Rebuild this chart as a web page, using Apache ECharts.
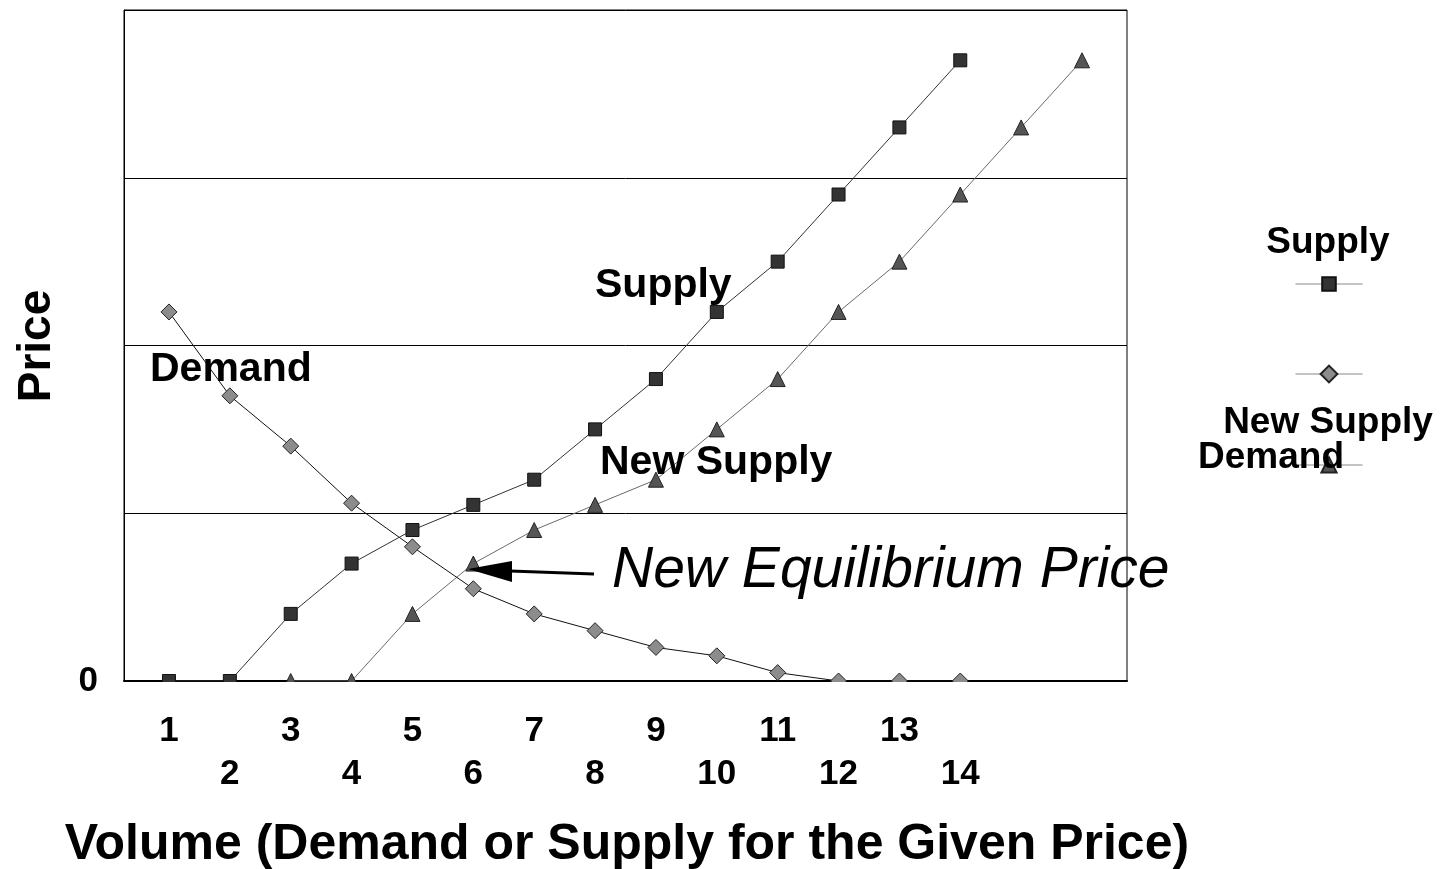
<!DOCTYPE html>
<html>
<head>
<meta charset="utf-8">
<script src="https://cdn.jsdelivr.net/npm/echarts@6/dist/echarts.min.js"></script>
<style>
  html, body { margin: 0; padding: 0; background: #fff; }
  #chart { width: 1443px; height: 869px; }
</style>
</head>
<body>
<div id="chart"></div>
<script>
// volumes 1..16 on the x axis, prices
var volumes = [1, 2, 3, 4, 5, 6, 7, 8, 9, 10, 11, 12, 13, 14, 15, 16];
var supply = [0, 0, 4, 7, 9, 10.5, 12, 15, 18, 22, 25, 29, 33, 37];
var newSupply = [null, null, 0, 0, 4, 7, 9, 10.5, 12, 15, 18, 22, 25, 29, 33, 37];
var demand = [22, 17, 14, 10.6, 8, 5.5, 4, 3, 2, 1.5, 0.5, 0, 0, 0];
var oddTicks = [1, 3, 5, 7, 9, 11, 13];
var evenTicks = [2, 4, 6, 8, 10, 12, 14];

var FONT = '"Liberation Sans", Arial, sans-serif';

function pairs(vals) {
  var out = [];
  for (var i = 0; i < vals.length; i++) {
    if (vals[i] !== null) out.push([volumes[i], vals[i]]);
  }
  return out;
}

var chart = echarts.init(document.getElementById('chart'));

var tickLabel = { fontFamily: FONT, fontSize: 35, fontWeight: 'bold', color: '#000' };

// one legend per entry, captions are drawn separately above the icons
function legendFor(name, centerY, h) {
  return {
    data: [name], left: 1295, top: centerY - h / 2, padding: 0,
    itemWidth: 67, itemHeight: h, formatter: function () { return ''; },
    lineStyle: { color: '#888', width: 1 }
  };
}

chart.setOption({
  animation: false,
  grid: {
    left: 124, top: 10, width: 1003, height: 671,
    show: true, borderColor: '#000', borderWidth: 1
  },
  xAxis: [{
    type: 'value', min: 0.261, max: 16.739,
    axisLine: { show: true, onZero: false, lineStyle: { color: '#000', width: 2 } },
    axisTick: { show: false },
    splitLine: { show: false },
    axisLabel: Object.assign({ customValues: oddTicks, margin: 33 }, tickLabel)
  }, {
    type: 'value', min: 0.261, max: 16.739, position: 'bottom',
    axisLine: { show: false },
    axisTick: { show: false },
    splitLine: { show: false },
    axisLabel: Object.assign({ customValues: evenTicks, margin: 76 }, tickLabel)
  }],
  yAxis: {
    type: 'value', min: 0, max: 40, interval: 10,
    axisLine: { show: true, lineStyle: { color: '#000', width: 1 } },
    axisTick: { show: false },
    splitLine: { show: true, lineStyle: { color: '#000', width: 1 } },
    axisLabel: Object.assign({
      margin: 26, padding: [18, 0, 0, 0],
      formatter: function (v) { return v === 0 ? '0' : ''; }
    }, tickLabel)
  },
  legend: [
    legendFor('Supply', 284, 17),
    legendFor('Demand', 374, 21),
    legendFor('New Supply', 465, 19)
  ],
  series: [{
    name: 'New Supply', type: 'line', data: pairs(newSupply),
    symbol: 'triangle', symbolSize: 15,
    lineStyle: { color: '#6a6a6a', width: 1 },
    itemStyle: { color: '#555', borderColor: '#222', borderWidth: 1 }
  }, {
    name: 'Demand', type: 'line', data: pairs(demand),
    symbol: 'diamond', symbolSize: 16,
    lineStyle: { color: '#111', width: 1 },
    itemStyle: { color: '#8c8c8c', borderColor: '#222', borderWidth: 1 }
  }, {
    name: 'Supply', type: 'line', data: pairs(supply),
    symbol: 'rect', symbolSize: 13,
    lineStyle: { color: '#333', width: 1 },
    itemStyle: { color: '#333', borderColor: '#111', borderWidth: 1 }
  }],
  graphic: [
    // hide the lower halves of markers sitting on the axis
    { type: 'rect', z: 100, shape: { x: 124, y: 682, width: 1003, height: 16 }, style: { fill: '#fff' } },
    // axis titles
    { type: 'text', z: 100, x: 37, y: 346, rotation: Math.PI / 2,
      style: { text: 'Price', font: 'bold 46px ' + FONT, fill: '#000', align: 'center', verticalAlign: 'middle' } },
    { type: 'text', z: 100, x: 627, y: 845,
      style: { text: 'Volume (Demand or Supply for the Given Price)', font: 'bold 50px ' + FONT, fill: '#000', align: 'center', verticalAlign: 'middle' } },
    // labels inside the plot
    { type: 'text', z: 100, x: 595, y: 286,
      style: { text: 'Supply', font: 'bold 41px ' + FONT, fill: '#000', verticalAlign: 'middle' } },
    { type: 'text', z: 100, x: 150, y: 370,
      style: { text: 'Demand', font: 'bold 41px ' + FONT, fill: '#000', verticalAlign: 'middle' } },
    { type: 'text', z: 100, x: 600, y: 463,
      style: { text: 'New Supply', font: 'bold 41px ' + FONT, fill: '#000', verticalAlign: 'middle' } },
    { type: 'text', z: 100, x: 612, y: 571,
      style: { text: 'New Equilibrium Price', font: 'italic 57px ' + FONT, fill: '#000', verticalAlign: 'middle' } },
    // arrow to the new equilibrium
    { type: 'line', z: 100, shape: { x1: 594, y1: 574, x2: 510, y2: 571 }, style: { stroke: '#000', lineWidth: 3 } },
    { type: 'polygon', z: 100, shape: { points: [[468, 569], [512, 561], [512, 582]] }, style: { fill: '#000' } },
    // legend captions
    { type: 'text', z: 100, x: 1328, y: 243,
      style: { text: 'Supply', font: 'bold 37px ' + FONT, fill: '#000', align: 'center', verticalAlign: 'middle' } },
    { type: 'text', z: 100, x: 1328, y: 423,
      style: { text: 'New Supply', font: 'bold 37px ' + FONT, fill: '#000', align: 'center', verticalAlign: 'middle' } },
    { type: 'text', z: 100, x: 1198, y: 458,
      style: { text: 'Demand', font: 'bold 37px ' + FONT, fill: '#000', verticalAlign: 'middle' } }
  ]
});
</script>
</body>
</html>
